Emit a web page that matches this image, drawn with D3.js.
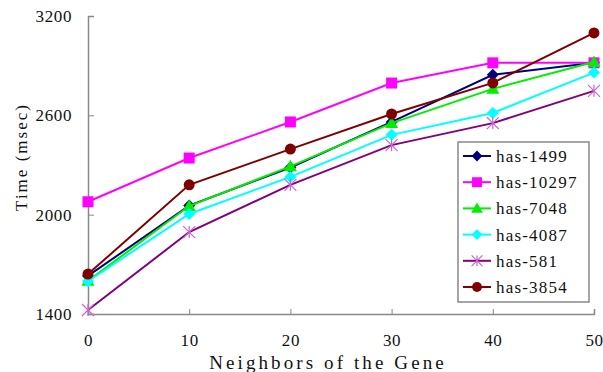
<!DOCTYPE html>
<html>
<head>
<meta charset="utf-8">
<script src="https://cdn.jsdelivr.net/npm/d3@7"></script>
<style>
  body { margin: 0; background: #fff; }
  text { font-family: "Liberation Serif", "DejaVu Serif", serif; fill: #111; }
</style>
</head>
<body>
<svg id="chart" width="603" height="372"></svg>
<script>
// data
var neighbors = [0, 10, 20, 30, 40, 50];
var seriesNames = ["has-1499", "has-10297", "has-7048", "has-4087", "has-581", "has-3854"];
var has1499  = [1630, 2055, 2285, 2560, 2845, 2918];
var has10297 = [2078, 2342, 2560, 2795, 2917, 2917];
var has7048  = [1600, 2052, 2292, 2553, 2760, 2922];
var has4087  = [1598, 2004, 2228, 2482, 2614, 2858];
var has581   = [1424, 1895, 2180, 2420, 2553, 2748];
var has3854  = [1641, 2180, 2396, 2608, 2796, 3098];
var yTicks = [1400, 2000, 2600, 3200];
var xTicks = [0, 10, 20, 30, 40, 50];

var colors = ["#000080", "#ff00ff", "#00ee00", "#00ffff", "#800080", "#800000"];
var symbols = ["diamond", "square", "triangle", "diamond", "asterisk", "circle"];
var allSeries = [has1499, has10297, has7048, has4087, has581, has3854];

var svg = d3.select("#chart");
var margin = { top: 16, right: 9, bottom: 58, left: 88 };
var width = 603 - margin.left - margin.right;
var height = 372 - margin.top - margin.bottom;

var x = d3.scaleLinear().domain([0, 50]).range([0, width]);
var y = d3.scaleLinear().domain([1400, 3200]).range([height, 0]);

var g = svg.append("g").attr("transform", "translate(" + margin.left + "," + margin.top + ")");

// axes
var xAxis = g.append("g").attr("transform", "translate(0," + height + ")")
  .call(d3.axisBottom(x).tickValues(xTicks).tickSize(-5).tickPadding(20).tickFormat(d3.format("d")));
var yAxis = g.append("g")
  .call(d3.axisLeft(y).tickValues(yTicks).tickSize(-6).tickPadding(16).tickFormat(d3.format("d")));
[xAxis, yAxis].forEach(function(a){
  a.select(".domain").attr("stroke", "#888").attr("stroke-width", 1.5);
  a.selectAll(".tick line").attr("stroke", "#888");
  a.selectAll(".tick text").style("font-size", "17px").style("letter-spacing", "0.6px")
    .style("font-family", "'Liberation Serif', serif").attr("fill", "#111");
});

// marker drawing
function drawMarker(sel, sym, color, cx, cy, s) {
  s = s || 1;
  if (sym == "circle") {
    sel.append("circle").attr("cx", cx).attr("cy", cy).attr("r", 5.5 * s).attr("fill", color);
  } else if (sym == "square") {
    sel.append("rect").attr("x", cx - 5.5 * s).attr("y", cy - 5.5 * s)
      .attr("width", 11 * s).attr("height", 11 * s).attr("fill", color);
  } else if (sym == "diamond") {
    var d = 6 * s;
    sel.append("path").attr("d", "M" + cx + "," + (cy - d) + "L" + (cx + d) + "," + cy +
      "L" + cx + "," + (cy + d) + "L" + (cx - d) + "," + cy + "Z").attr("fill", color);
  } else if (sym == "triangle") {
    var t = 6.5 * s;
    sel.append("path").attr("d", "M" + cx + "," + (cy - t) + "L" + (cx + t) + "," + (cy + t * 0.75) +
      "L" + (cx - t) + "," + (cy + t * 0.75) + "Z").attr("fill", color);
  } else if (sym == "asterisk") {
    var a = 6 * s;
    sel.append("path").attr("d",
      "M" + (cx - a) + "," + (cy - a) + "L" + (cx + a) + "," + (cy + a) +
      "M" + (cx - a) + "," + (cy + a) + "L" + (cx + a) + "," + (cy - a) +
      "M" + cx + "," + (cy - a) + "L" + cx + "," + (cy + a))
      .attr("stroke", "#cc66cc").attr("stroke-width", 1.2).attr("fill", "none");
  }
}

var line = d3.line()
  .x(function(d, i){ return x(neighbors[i]); })
  .y(function(d){ return y(d); });

allSeries.forEach(function(vals, k){
  var sg = g.append("g").attr("class", "series");
  sg.append("path").datum(vals).attr("d", line)
    .attr("fill", "none").attr("stroke", colors[k]).attr("stroke-width", 2);
  vals.forEach(function(v, i){
    drawMarker(sg, symbols[k], colors[k], x(neighbors[i]), y(v));
  });
});

// axis titles
svg.append("text")
  .attr("x", 328).attr("y", 369)
  .attr("text-anchor", "middle").style("font-size", "19px").style("letter-spacing", "3.1px")
  .text("Neighbors of the Gene");
svg.append("text")
  .attr("transform", "translate(27,157) rotate(-90)")
  .attr("text-anchor", "middle").style("font-size", "17px").style("letter-spacing", "2px")
  .text("Time (msec)");

// legend
var legend = svg.append("g").attr("transform", "translate(458,142)");
legend.append("rect").attr("width", 131).attr("height", 160)
  .attr("fill", "#fff").attr("stroke", "#888").attr("stroke-width", 1.5);
seriesNames.forEach(function(name, k){
  var ly = 14 + k * 26.2;
  legend.append("line").attr("x1", 5).attr("x2", 33).attr("y1", ly).attr("y2", ly)
    .attr("stroke", colors[k]).attr("stroke-width", 2);
  drawMarker(legend, symbols[k], colors[k], 19, ly, 0.9);
  legend.append("text").attr("x", 38).attr("y", ly + 6)
    .style("font-size", "17px").style("letter-spacing", "1.2px").text(name);
});
</script>
</body>
</html>
